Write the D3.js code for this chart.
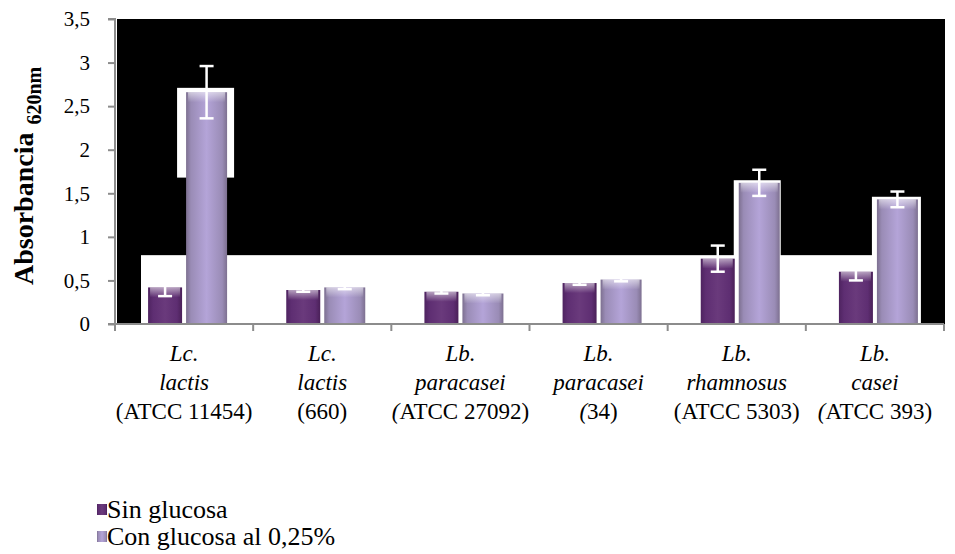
<!DOCTYPE html>
<html><head><meta charset="utf-8">
<script src="https://cdn.jsdelivr.net/npm/d3@7"></script>
<style>body{margin:0;background:#fff;} svg{display:block;}</style>
</head><body>
<svg id="c" width="955" height="554"></svg>
<script>
const genus = ["Lc.", "Lc.", "Lb.", "Lb.", "Lb.", "Lb."];
const species = ["lactis", "lactis", "paracasei", "paracasei", "rhamnosus", "casei"];
const strainItalicParen = [false, false, true, true, false, true];
const strain = ["ATCC 11454)", "660)", "ATCC 27092)", "34)", "ATCC 5303)", "ATCC 393)"];
const sinGlucosa = [0.42, 0.39, 0.37, 0.47, 0.75, 0.60];
const sinErr = [0.10, 0.02, 0.02, 0.02, 0.15, 0.10];
const conGlucosa = [2.66, 0.42, 0.35, 0.51, 1.62, 1.43];
const conErr = [0.30, 0.02, 0.02, 0.02, 0.15, 0.09];
const yTicks = [0, 0.5, 1, 1.5, 2, 2.5, 3, 3.5];
const seriesNames = ["Sin glucosa", "Con glucosa al 0,25%"];

const FONT = '"Liberation Serif","Times New Roman",serif';
const svg = d3.select("#c").attr("font-family", FONT);
const x0 = 115, x1 = 944, yTop = 19, yBot = 324;
const x = d3.scaleBand().domain(d3.range(genus.length)).range([x0, x1]).padding(0);
const y = d3.scaleLinear().domain([0, 3.5]).range([yBot, yTop]);

const defs = svg.append("defs");
function hgrad(id, stops){
  const g = defs.append("linearGradient").attr("id", id).attr("x1","0").attr("x2","1").attr("y1","0").attr("y2","0");
  stops.forEach(s=>g.append("stop").attr("offset",s[0]).attr("stop-color",s[1]));
}
hgrad("gSin", [[0,"#4e2360"],[0.15,"#5e2e72"],[0.5,"#6a3a7c"],[0.85,"#5e2e72"],[1,"#4a2058"]]);
hgrad("gCon", [[0,"#7d7090"],[0.12,"#9a8cb6"],[0.5,"#b4a4d8"],[0.88,"#9a8cb6"],[1,"#7d7090"]]);
const vt = defs.append("linearGradient").attr("id","gTop").attr("x1","0").attr("x2","0").attr("y1","0").attr("y2","1");
vt.append("stop").attr("offset",0).attr("stop-color","#fff").attr("stop-opacity",0.55);
vt.append("stop").attr("offset",1).attr("stop-color","#fff").attr("stop-opacity",0);

// plot background (black) with white artifact regions
svg.append("rect").attr("x", x0+2).attr("y", y(3.5)).attr("width", 945-(x0+2)).attr("height", yBot - y(3.5)).attr("fill", "#000");
svg.append("rect").attr("x", 141).attr("y", y(0.79)).attr("width", 873-141).attr("height", yBot - y(0.79)).attr("fill", "#fff");

const sinX = i => x(i) + x.bandwidth()/2 - 36, sinW = 34;
const conX = i => x(i) + x.bandwidth()/2 + 2, conW = 41;

// white halo rects around some "con" bars: [index, top value, bottom value, left pad, right pad]
const halos = [[0, 2.71, 1.68, 9, 7], [4, 1.65, 0, 5, 1], [5, 1.46, 0, 5, 3]];
halos.forEach(([i, top, bottom, lp, rp]) => {
  svg.append("rect").attr("x", conX(i)-lp).attr("y", y(top)).attr("width", conW+lp+rp).attr("height", y(bottom)-y(top)).attr("fill","#fff");
});

const gBars = svg.append("g");
function bars(vals, xf, w, fill){
  vals.forEach((v,i)=>{
    gBars.append("rect").attr("x", xf(i)).attr("y", y(v)).attr("width", w).attr("height", yBot - y(v)).attr("fill", `url(#${fill})`);
    gBars.append("rect").attr("x", xf(i)+2).attr("y", y(v)).attr("width", w-4).attr("height", Math.min(10, yBot-y(v))).attr("fill", "url(#gTop)");
  });
}
bars(sinGlucosa, sinX, sinW, "gSin");
bars(conGlucosa, conX, conW, "gCon");

// error bars
function errs(vals, e, xf, w){
  vals.forEach((v,i)=>{
    const cx = xf(i) + w/2;
    const g = gBars.append("g").attr("stroke","#fff").attr("stroke-width",2.5);
    g.append("line").attr("x1",cx).attr("x2",cx).attr("y1",y(v+e[i])).attr("y2",y(v-e[i]));
    g.append("line").attr("x1",cx-7).attr("x2",cx+7).attr("y1",y(v+e[i])).attr("y2",y(v+e[i]));
    g.append("line").attr("x1",cx-7).attr("x2",cx+7).attr("y1",y(v-e[i])).attr("y2",y(v-e[i]));
  });
}
errs(sinGlucosa, sinErr, sinX, sinW);
errs(conGlucosa, conErr, conX, conW);

// y axis
const ya = svg.append("g").attr("transform", `translate(${x0},0)`)
  .call(d3.axisLeft(y).tickValues(yTicks).tickSize(7).tickPadding(18).tickFormat(d=>String(d).replace(".",",")));
ya.attr("font-family", FONT);
ya.select(".domain").attr("stroke","#8c8c8c").attr("stroke-width",2).attr("d", `M-7,${yTop}H0V${yBot}`);
ya.selectAll(".tick line").attr("stroke","#8c8c8c").attr("stroke-width",2);
ya.selectAll("text").attr("font-size", 21).attr("fill","#000").attr("font-family", FONT);

// x axis
const xg = svg.append("g").attr("font-family", FONT);
xg.append("line").attr("x1", x0-7).attr("x2", x1).attr("y1", yBot).attr("y2", yBot).attr("stroke","#8c8c8c").attr("stroke-width",2);
d3.range(genus.length+1).forEach(i=>{
  const xx = i < genus.length ? x(i) : x1;
  xg.append("line").attr("x1",xx).attr("x2",xx).attr("y1",yBot).attr("y2",yBot+7).attr("stroke","#8c8c8c").attr("stroke-width",2);
});
genus.forEach((g,i)=>{
  const cx = x(i) + x.bandwidth()/2;
  const t = xg.append("text").attr("text-anchor","middle").attr("font-size",23).attr("fill","#000").attr("font-family", FONT);
  t.append("tspan").attr("x",cx).attr("y",361).attr("font-style","italic").text(g);
  t.append("tspan").attr("x",cx).attr("y",390).attr("font-style","italic").text(species[i]);
  const t3 = t.append("tspan").attr("x",cx).attr("y",419);
  t3.append("tspan").attr("font-style", strainItalicParen[i] ? "italic" : "normal").text("(");
  t3.append("tspan").text(strain[i]);
});

// y label
const yl = svg.append("text").attr("transform","translate(33,285) rotate(-90)").attr("text-anchor","start")
  .attr("font-weight","bold").attr("fill","#000").attr("font-family", FONT);
yl.append("tspan").attr("font-size",28).text("Absorbancia");
yl.append("tspan").attr("font-size",20).attr("dx",8).attr("dy",8).text("620nm");

// legend
const lg = svg.append("g").attr("font-family", FONT);
seriesNames.forEach((n,i)=>{
  const yy = 518 + i*27;
  lg.append("rect").attr("x",97).attr("y",yy-14).attr("width",10).attr("height",11).attr("fill", i===0 ? "url(#gSin)" : "url(#gCon)");
  lg.append("text").attr("x",107).attr("y",yy).attr("font-size",26).attr("fill","#000").attr("font-family", FONT).text(n);
});
</script>
</body></html>
